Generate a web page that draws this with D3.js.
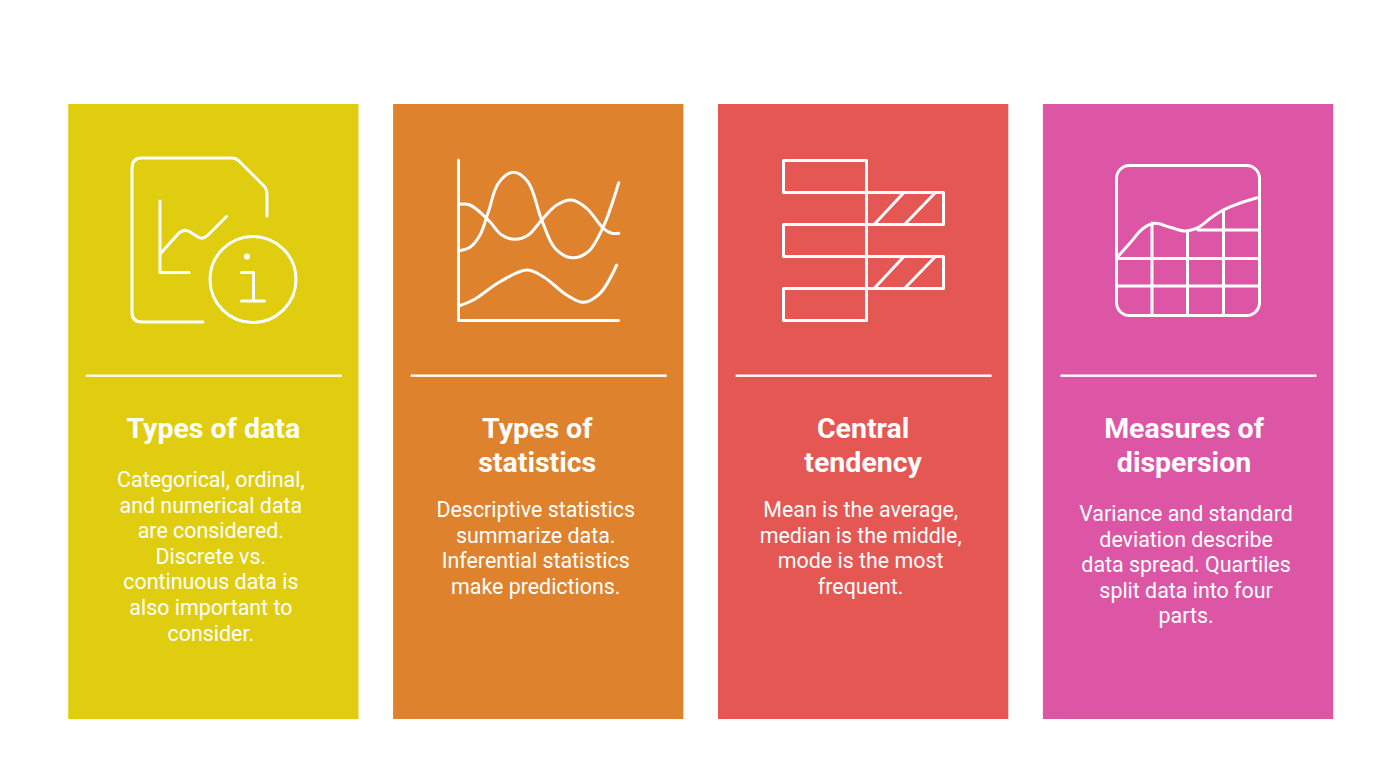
<!DOCTYPE html>
<html>
<head>
<meta charset="utf-8" />
<title>Statistics basics</title>
<script src="https://cdn.jsdelivr.net/npm/d3@7/dist/d3.min.js"></script>
<style>
html, body { margin: 0; padding: 0; background: #fff; }
svg { display: block; }
text { font-family: Roboto, sans-serif; fill: #fff; text-anchor: middle; }
.title { font-size: 28.5px; font-weight: 700; }
.body { font-size: 21.4px; font-weight: 400; }
.icon path, .icon circle, .icon rect { fill: none; stroke: #fff; stroke-width: 3; stroke-linecap: round; stroke-linejoin: round; }
</style>
</head>
<body>
<script>
var categories = ["Types of data", "Types of statistics", "Central tendency", "Measures of dispersion"];
var panelColors = ["#e0cd10", "#de822e", "#e55753", "#dd56a6"];
var titleLines = [
	["Types of data"],
	["Types of", "statistics"],
	["Central", "tendency"],
	["Measures of", "dispersion"]
];
var bodyLines = [
	["Categorical, ordinal,", "and numerical data", "are considered.", "Discrete vs.", "continuous data is", "also important to", "consider."],
	["Descriptive statistics", "summarize data.", "Inferential statistics", "make predictions."],
	["Mean is the average,", "median is the middle,", "mode is the most", "frequent."],
	["Variance and standard", "deviation describe", "data spread. Quartiles", "split data into four", "parts."]
];
var bodyTop = [487, 517, 517, 521];
var titleShift = [0, -1, 0, -4];
var bodyShift = [-2.5, -2.5, -2.5, -2];

// icon glyphs, page pixels
var iconDoc = [
	"M203,322 H142 Q132,322 132,312 V168 Q132,158 142,158 H232 Q236,158 239,161 L263,185 Q267,189 267,194 V216",
	"M160,201 V272.5 H189",
	"M161,253 L178,234 Q184,228 190,232 L198,237 Q203,240 208,235 L226.5,216.5",
	"M241.5,272.5 H253.5 V301 M241.5,301 H264.5"
];
var iconDocCircles = [[253, 279.5, 43], [247, 256.5, 1.6]];

var iconAxes = [[458.5, 160], [458.5, 320.5], [618.5, 320.5]];
var iconWaves = [
	[[459.3, 250.7], [470, 247.3], [480, 235], [488.3, 212], [498.3, 183.3], [513.3, 172.3], [528, 182], [541.7, 220], [555, 248.3], [571.7, 257.7], [588.3, 251.7], [603.3, 226.7], [618.7, 182.7]],
	[[459.3, 204.3], [470, 205], [488.3, 220], [501.7, 235], [515, 239.3], [528.3, 235], [541.7, 220], [556.7, 205], [571.7, 200], [586.7, 208.3], [603.3, 228.3], [611.7, 233.3], [618.7, 233.3]],
	[[459.3, 305.7], [473.3, 300], [500, 281.7], [526.7, 270], [543.3, 276.7], [566.7, 295], [583.3, 302.3], [600, 293.3], [616.7, 265]]
];

var iconBars = [[783.5, 160.5, 83, 32], [783.5, 224.5, 83, 32], [783.5, 288.5, 83, 32], [866.5, 192.5, 77, 32], [866.5, 256.5, 77, 32]];
var iconHatch = [
	"M875,223.5 L903.5,193", "M905.5,223.5 L935,193",
	"M875,287.5 L903.5,257", "M905.5,287.5 L935,257"
];

var iconFrame = [1116.5, 165.5, 143, 150, 13];
var iconGrid = [
	"M1117,258.5 H1259", "M1117,286 H1259", "M1198,230 H1259",
	"M1152,223 V315", "M1187.5,231 V315", "M1223.5,210 V315"
];
var iconArea = [[1117.7, 256.7], [1130, 243], [1143.3, 228.3], [1155, 223.3], [1170, 227.3], [1185, 231], [1198.3, 227.3], [1211.7, 217.3], [1223.3, 210], [1236.7, 204.3], [1257, 197.7]];

var width = 1400, height = 770;
var panelTop = 104, panelHeight = 615;
var titleTop = 438, titleStep = 34, bodyStep = 25.6;

var svg = d3.select("body").append("svg")
	.attr("width", width)
	.attr("height", height)
	.attr("viewBox", "0 0 " + width + " " + height);

var xScale = d3.scaleBand().domain(categories).range([68.2, 1333.2]).paddingInner(34.6 / 325);
var wave = d3.line().curve(d3.curveCatmullRom);
var poly = d3.line();

var panels = svg.selectAll(".panel").data(categories).join("g")
	.attr("class", "panel")
	.attr("transform", d => "translate(" + xScale(d) + ",0)");

panels.append("rect")
	.attr("y", panelTop)
	.attr("width", xScale.bandwidth())
	.attr("height", panelHeight)
	.attr("fill", (d, i) => panelColors[i]);

panels.append("rect")
	.attr("x", 17.6)
	.attr("y", 374.5)
	.attr("width", 256)
	.attr("height", 2.4)
	.attr("fill", "#fff");

panels.each(function(d, i) {
	var g = d3.select(this);
	var cx = xScale.bandwidth() / 2;
	g.selectAll(".title").data(titleLines[i]).join("text")
		.attr("class", "title")
		.attr("x", cx + titleShift[i])
		.attr("y", (t, j) => titleTop + j * titleStep)
		.text(t => t);
	g.selectAll(".body").data(bodyLines[i]).join("text")
		.attr("class", "body")
		.attr("x", cx + bodyShift[i])
		.attr("y", (t, j) => bodyTop[i] + j * bodyStep)
		.text(t => t);
});

var icons = svg.append("g").attr("class", "icon");

iconDoc.forEach(d => icons.append("path").attr("d", d));
iconDocCircles.forEach(c => icons.append("circle").attr("cx", c[0]).attr("cy", c[1]).attr("r", c[2]));

icons.append("path").attr("d", poly(iconAxes));
iconWaves.forEach(w => icons.append("path").attr("d", wave(w)));

iconBars.forEach(b => icons.append("rect").attr("x", b[0]).attr("y", b[1]).attr("width", b[2]).attr("height", b[3]));
iconHatch.forEach(d => icons.append("path").attr("d", d));

icons.append("rect")
	.attr("x", iconFrame[0]).attr("y", iconFrame[1])
	.attr("width", iconFrame[2]).attr("height", iconFrame[3])
	.attr("rx", iconFrame[4]);
iconGrid.forEach(d => icons.append("path").attr("d", d));
icons.append("path").attr("d", wave(iconArea));
</script>
</body>
</html>
